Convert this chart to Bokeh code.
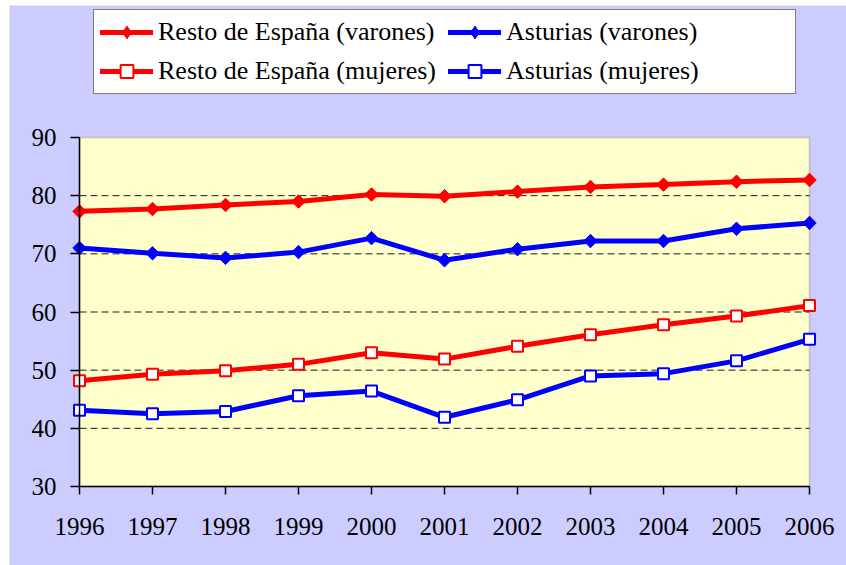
from bokeh.plotting import figure
from bokeh.models import Range1d, FixedTicker, Legend, LegendItem, BoxAnnotation, Spacer
from bokeh.layouts import row, column
from bokeh.embed import file_html
from bokeh.resources import INLINE
import math

years = [1996, 1997, 1998, 1999, 2000, 2001, 2002, 2003, 2004, 2005, 2006]
year_labels = ["1996", "1997", "1998", "1999", "2000", "2001", "2002", "2003", "2004", "2005", "2006"]
resto_varones = [77.3, 77.7, 78.4, 79.0, 80.2, 79.9, 80.7, 81.5, 81.9, 82.4, 82.7]
asturias_varones = [71.0, 70.1, 69.3, 70.3, 72.7, 68.9, 70.8, 72.2, 72.2, 74.3, 75.3]
resto_mujeres = [48.2, 49.3, 49.9, 51.0, 53.0, 51.9, 54.1, 56.1, 57.8, 59.3, 61.1]
asturias_mujeres = [43.1, 42.5, 42.9, 45.6, 46.4, 41.9, 44.9, 49.0, 49.4, 51.6, 55.3]
y_ticks = [30, 40, 50, 60, 70, 80, 90]

FONT = "Liberation Serif"
LAVENDER = "#CCCCFF"
PLOT_BG = "#FFFFCC"

# figure geometry (pixels): plot area from x=70..800, y=132..481 inside a 837x560 figure
W, H = 837, 560
PX_L, PX_R, PX_T, PX_B = 70, 800, 132, 481
xs = (PX_R - PX_L) / (years[-1] - years[0])
ys = (PX_B - PX_T) / (y_ticks[-1] - y_ticks[0])
x_range = Range1d(years[0] - PX_L / xs, years[-1] + (W - PX_R) / xs)
y_range = Range1d(y_ticks[0] - (H - PX_B) / ys, y_ticks[-1] + PX_T / ys)

p = figure(width=W, height=H, output_backend="svg", toolbar_location=None,
           x_range=x_range, y_range=y_range)
p.min_border = 0
p.min_border_left = 0
p.min_border_right = 0
p.min_border_top = 0
p.min_border_bottom = 0
p.border_fill_color = LAVENDER
p.background_fill_color = LAVENDER
p.outline_line_color = None

# plot area (yellow) with grey frame
p.add_layout(BoxAnnotation(left=years[0], right=years[-1], bottom=y_ticks[0], top=y_ticks[-1],
                           fill_color=PLOT_BG, fill_alpha=1, line_color="#808080",
                           line_width=2, level="image"))

# dashed horizontal gridlines inside the plot area
inner = y_ticks[1:-1]
p.segment(x0=[years[0]] * len(inner), x1=[years[-1]] * len(inner), y0=inner, y1=inner,
          line_color="#1a1a1a", line_width=1, line_dash="7 4", level="underlay")

p.xgrid.grid_line_color = None
p.ygrid.grid_line_color = None

# axes
p.xaxis.ticker = FixedTicker(ticks=years)
p.xaxis.major_label_overrides = {y: l for y, l in zip(years, year_labels)}
p.xaxis.bounds = (years[0], years[-1])
p.xaxis.fixed_location = y_ticks[0]
p.yaxis.ticker = FixedTicker(ticks=y_ticks)
p.yaxis.bounds = (y_ticks[0], y_ticks[-1])
p.yaxis.fixed_location = years[0]
for ax in (p.xaxis, p.yaxis):
    ax.axis_line_color = "black"
    ax.axis_line_width = 1.5
    ax.major_tick_line_color = "black"
    ax.major_tick_line_width = 1.5
    ax.major_tick_in = 0
    ax.minor_tick_line_color = None
    ax.major_label_text_font = FONT
    ax.major_label_text_font_size = "25px"
    ax.major_label_text_color = "black"
p.xaxis.major_tick_out = 8
p.xaxis.major_label_standoff = 23
p.yaxis.major_tick_out = 9
p.yaxis.major_label_standoff = 14

series = [
    ("Resto de España (varones)", resto_varones, "#FF0000", "filled"),
    ("Asturias (varones)", asturias_varones, "#0000FF", "filled"),
    ("Resto de España (mujeres)", resto_mujeres, "#FF0000", "open"),
    ("Asturias (mujeres)", asturias_mujeres, "#0000FF", "open"),
]

items = []
for label, vals, color, kind in series:
    ln = p.line(years, vals, line_color=color, line_width=5, line_cap="round")
    if kind == "filled":
        # rotated square in the plot
        p.scatter(years, vals, marker="square", angle=math.pi / 4, size=9.5,
                  fill_color=color, line_color=color, line_width=1)
        # narrower diamond, hidden inside the rotated square, used as the legend swatch
        key = p.scatter(years, vals, marker="diamond", size=12.4,
                        fill_color=color, line_color=color, line_width=1)
        items.append(LegendItem(label=label, renderers=[ln, key]))
    else:
        sc = p.scatter(years, vals, marker="square", size=11,
                       fill_color="white", line_color=color, line_width=2)
        items.append(LegendItem(label=label, renderers=[ln, sc]))

# legend box bottom at y=89 in figure pixels (location is measured from bottom-left)
legend = Legend(items=items, location=(84, H - 89), orientation="horizontal", ncols=2)
legend.label_text_font = FONT
legend.label_text_font_size = "26px"
legend.label_text_color = "black"
legend.label_width = 283
legend.label_height = 32
legend.glyph_width = 53
legend.glyph_height = 32
legend.label_standoff = 5
legend.spacing = 7
legend.padding = 6
legend.margin = 0
legend.border_line_color = "black"
legend.border_line_width = 1
legend.background_fill_color = "white"
legend.background_fill_alpha = 1
p.add_layout(legend, "center")

layout = column(Spacer(height=5), row(Spacer(width=9), p))
open("out.html", "w").write(file_html(layout, INLINE))
